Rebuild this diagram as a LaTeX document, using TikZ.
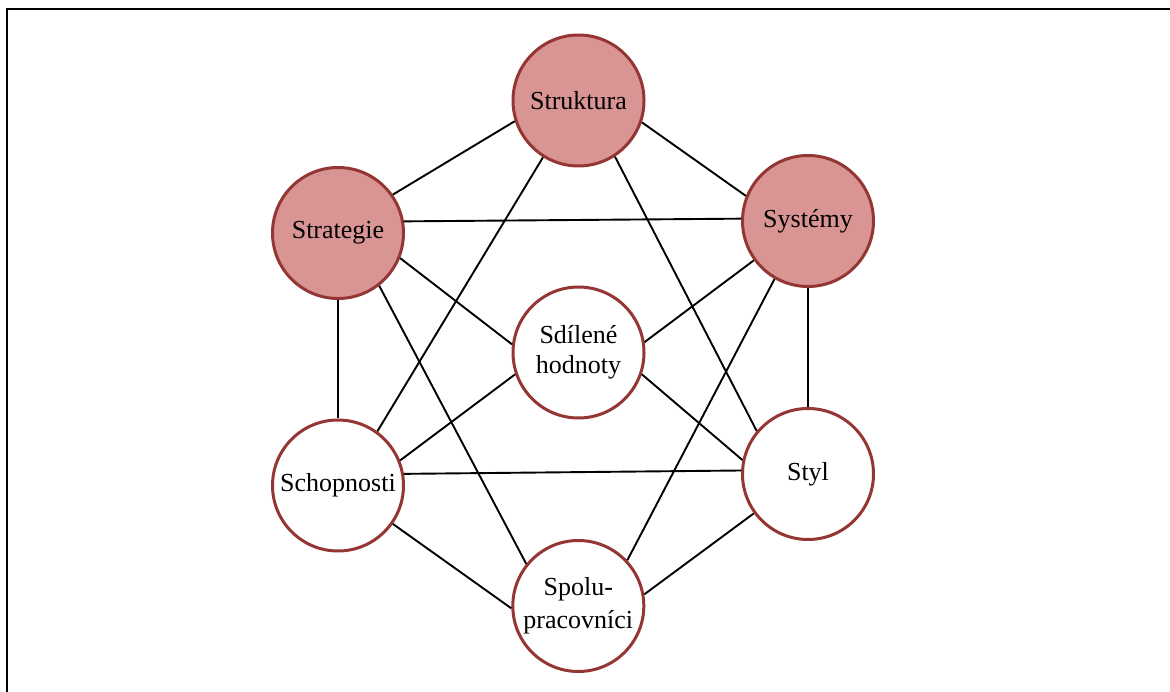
\documentclass[tikz,border=0pt]{standalone}
\usepackage{fontspec}
\setmainfont{Liberation Serif}
\definecolor{rosefill}{HTML}{D99594}
\definecolor{darkrose}{HTML}{943634}
\begin{document}
\begin{tikzpicture}[x=1pt,y=-1pt,
  sphere/.style={circle, draw=darkrose, line width=3pt, minimum size=131pt,
    inner sep=0pt, align=center, font=\fontsize{26}{30}\selectfont},
  core/.style={sphere, fill=rosefill},
  soft/.style={sphere, fill=white},
  link/.style={line width=1.9pt, black},
  frame/.style={line width=2.5pt, black}]
\useasboundingbox (0,0) rectangle (1170,692);

% open frame: top and left edges only
\coordinate (ftop) at (1170,9);
\coordinate (fcorner) at (7,9);
\coordinate (fbottom) at (7,692);
\draw[frame] (ftop) -- (fcorner) -- (fbottom);

% the seven elements
\node[core] (struk) at (578.5,100.5) {Struktura};
\node[core] (strat) at (338,233) {Strategie};
\node[core] (sys)   at (808,221) {Systémy};
\node[soft, font=\fontsize{26}{30}\selectfont] (sdil) at (578.5,352.5) {Sdílené\\hodnoty};
\node[soft] (schop) at (338,485.5) {Schopnosti};
\node[soft] (styl)  at (808,474) {Styl};
\node[soft, font=\fontsize{26}{33}\selectfont] (spolu) at (578.3,606) {Spolu-\\pracovníci};

% connections
\draw[link] (struk.198) -- (strat.35);
\draw[link] (struk.341) -- (sys.158);
\draw[link] (struk.238) -- (schop.54);
\draw[link] (struk.303) -- (styl.140);
\draw[link] (strat.10)  -- (sys.178);
\draw[link] (strat.338) -- (sdil.173);
\draw[link] (strat.south) -- (schop.north);
\draw[link] (strat.308) -- (spolu.141);
\draw[link] (sys.216)   -- (sdil.9);
\draw[link] (sys.south) -- (styl.north);
\draw[link] (sys.240)   -- (spolu.43);
\draw[link] (sdil.199)  -- (schop.22);
\draw[link] (sdil.341)  -- (styl.168);
\draw[link] (schop.10)  -- (styl.177);
\draw[link] (schop.325) -- (spolu.182);
\draw[link] (styl.216)  -- (spolu.10);
\end{tikzpicture}
\end{document}
